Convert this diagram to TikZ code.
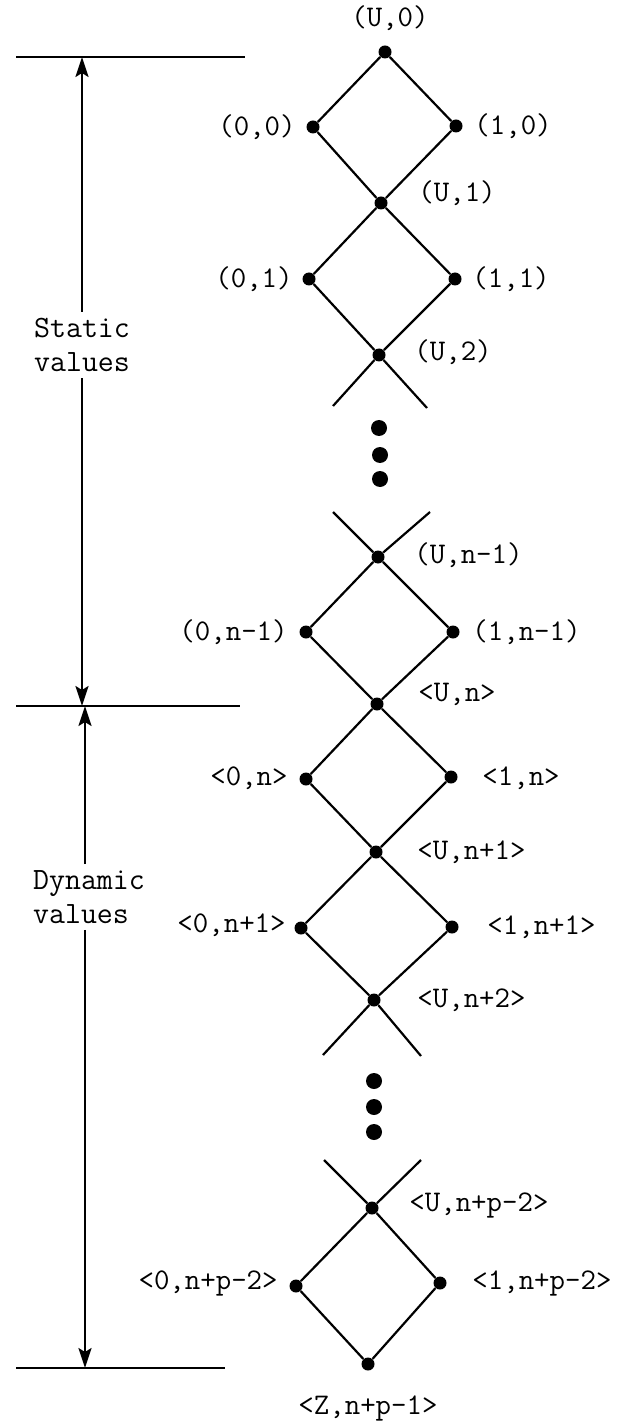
\documentclass[tikz,border=0pt]{standalone}
\usetikzlibrary{arrows.meta}
\begin{document}
\begin{tikzpicture}[x=0.5pt, y=-0.5pt,
  pt/.style={circle, fill=black, inner sep=0pt, minimum size=6.5pt},
  bigpt/.style={circle, fill=black, inner sep=0pt, minimum size=8pt},
  lbl/.style={font=\fontsize{15}{17}\selectfont\ttfamily, inner sep=1pt},
  side/.style={font=\fontsize{15.5}{17}\selectfont\ttfamily, align=left, inner sep=3pt},
  edge/.style={line width=1.1pt},
  arr/.style={line width=1.1pt, -{Stealth[length=10pt, width=6.5pt, inset=2pt]}}]
\useasboundingbox (0,0) rectangle (628,1427);

% ---------- static part
\node[pt] (u0)  at (385,52)  {};
\node[pt] (l00) at (313,127) {};
\node[pt] (r00) at (456,126) {};
\node[pt] (u1)  at (381,203) {};
\node[pt] (l01) at (309,279) {};
\node[pt] (r01) at (455,279) {};
\node[pt] (u2)  at (379,355) {};
\coordinate (c1) at (333,406);
\coordinate (c2) at (427,408);

\node[bigpt] (e1) at (379,428) {};
\node[bigpt] (e2) at (380,455) {};
\node[bigpt] (e3) at (380,479) {};

\coordinate (c3) at (333,512);
\coordinate (c4) at (430,512);
\node[pt] (unm) at (378,557) {};
\node[pt] (lnm) at (306,632) {};
\node[pt] (rnm) at (453,632) {};

% ---------- dynamic part
\node[pt] (un)   at (377,704)  {};
\node[pt] (ln)   at (306,779)  {};
\node[pt] (rn)   at (451,777)  {};
\node[pt] (unp)  at (376,852)  {};
\node[pt] (lnp)  at (301,928)  {};
\node[pt] (rnp)  at (452,927)  {};
\node[pt] (unq)  at (374,1000) {};
\coordinate (c5) at (323,1055);
\coordinate (c6) at (421,1056);

\node[bigpt] (e4) at (374,1081) {};
\node[bigpt] (e5) at (374,1107) {};
\node[bigpt] (e6) at (374,1132) {};

\coordinate (c7) at (324,1160);
\coordinate (c8) at (421,1160);
\node[pt] (up) at (372,1208) {};
\node[pt] (lp) at (296,1286) {};
\node[pt] (rp) at (440,1283) {};
\node[pt] (zp) at (368,1364) {};

\draw[edge] (u0) -- (l00) -- (u1) -- (r00) -- (u0);
\draw[edge] (u1) -- (l01) -- (u2) -- (r01) -- (u1);
\draw[edge] (u2) -- (c1) (u2) -- (c2);
\draw[edge] (c3) -- (unm) (c4) -- (unm);
\draw[edge] (unm) -- (lnm) -- (un) -- (rnm) -- (unm);
\draw[edge] (un) -- (ln) -- (unp) -- (rn) -- (un);
\draw[edge] (unp) -- (lnp) -- (unq) -- (rnp) -- (unp);
\draw[edge] (unq) -- (c5) (unq) -- (c6);
\draw[edge] (c7) -- (up) (c8) -- (up);
\draw[edge] (up) -- (lp) -- (zp) -- (rp) -- (up);

% ---------- labels
\node[lbl] (tu0)  at (390,18)               {(U,0)};
\node[lbl, anchor=east] (tl00) at (298,127) {(0,0)};
\node[lbl, anchor=west] (tr00) at (472,126) {(1,0)};
\node[lbl, anchor=west] (tu1)  at (416,193) {(U,1)};
\node[lbl, anchor=east] (tl01) at (295,279) {(0,1)};
\node[lbl, anchor=west] (tr01) at (470,279) {(1,1)};
\node[lbl, anchor=west] (tu2)  at (412,352) {(U,2)};
\node[lbl, anchor=west] (tunm) at (412,555) {(U,n-1)};
\node[lbl, anchor=east] (tlnm) at (290,632) {(0,n-1)};
\node[lbl, anchor=west] (trnm) at (470,632) {(1,n-1)};
\node[lbl, anchor=west] (tun)  at (416,694) {<U,n>};
\node[lbl, anchor=east] (tln)  at (290,778) {<0,n>};
\node[lbl, anchor=west] (trn)  at (480,778) {<1,n>};
\node[lbl, anchor=west] (tunp) at (415,852) {<U,n+1>};
\node[lbl, anchor=east] (tlnp) at (288,925) {<0,n+1>};
\node[lbl, anchor=west] (trnp) at (485,927) {<1,n+1>};
\node[lbl, anchor=west] (tunq) at (415,1000) {<U,n+2>};
\node[lbl, anchor=west] (tup)  at (407,1205) {<U,n+p-2>};
\node[lbl, anchor=east] (tlp)  at (280,1283) {<0,n+p-2>};
\node[lbl, anchor=west] (trp)  at (470,1283) {<1,n+p-2>};
\node[lbl] (tzp) at (368,1408) {<Z,n+p-1>};

% ---------- ranges on the left
\coordinate (ta) at (16,57);   \coordinate (tb) at (245,57);
\coordinate (ma) at (16,706);  \coordinate (mb) at (240,706);
\coordinate (ba) at (16,1368); \coordinate (bb) at (225,1368);
\draw[edge] (ta) -- (tb);
\draw[edge] (ma) -- (mb);
\draw[edge] (ba) -- (bb);

\node[side] (stat) at (82,345)  {Static\\values};
\node[side] (dyn)  at (89,897)  {Dynamic\\values};
\draw[arr] (stat.north) -- (stat.north |- ta);
\draw[arr] (stat.south) -- (stat.south |- ma);
\draw[arr] (dyn.north -| 85,0) -- (85,706);
\draw[arr] (dyn.south -| 85,0) -- (85,1368);
\end{tikzpicture}
\end{document}
